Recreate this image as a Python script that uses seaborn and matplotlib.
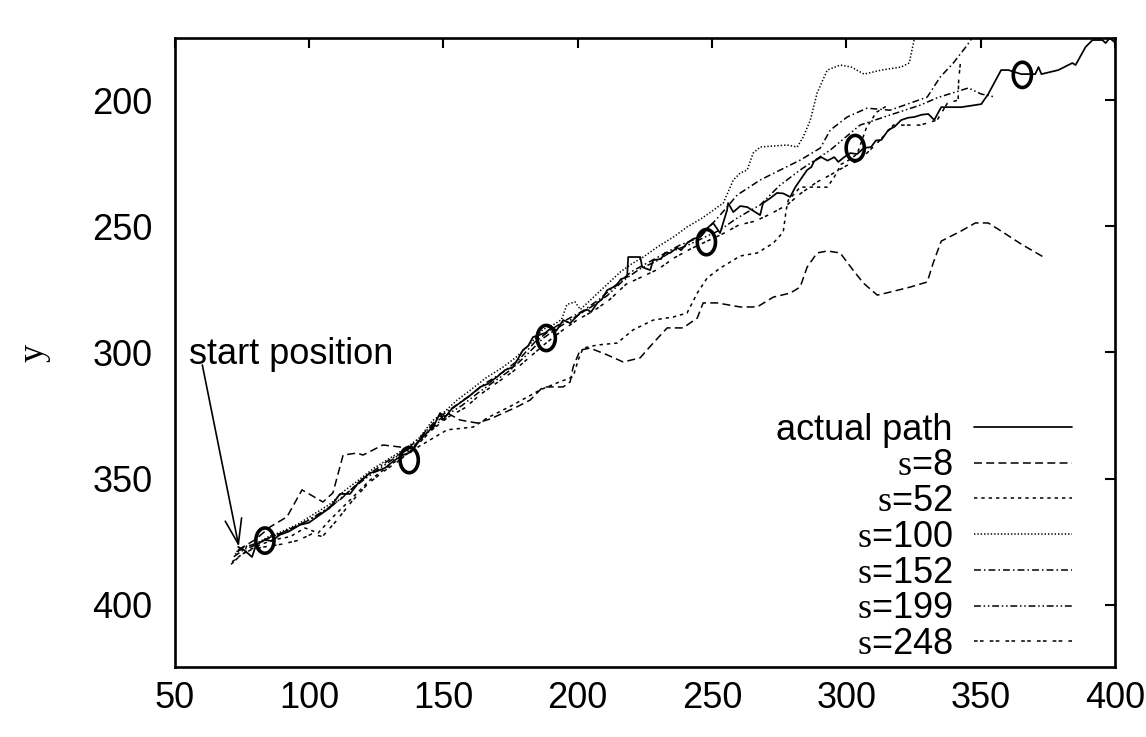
import numpy as np
import pandas as pd
import matplotlib
matplotlib.use("Agg")
import matplotlib.pyplot as plt
from matplotlib.path import Path
import seaborn as sns

# ---------------- data ----------------
actual_x = [73.6, 75.8, 78.8, 80.3, 83.6, 86.0, 89.2, 92.5, 96.6, 100.0,
            103.0, 107.8, 111.5, 115.3, 118.5, 122.7, 125.0, 128.3, 131.5, 135.0,
            138.0, 141.3, 145.0, 146.5, 148.8, 149.9, 153.0, 156.2, 159.5, 163.7,
            166.5, 170.0, 173.0, 176.0, 179.7, 181.5, 183.4, 187.9, 190.5, 192.0,
            194.6, 197.2, 200.9, 203.5, 205.0, 207.3, 209.0, 211.0, 214.5, 216.0,
            218.4, 218.8, 223.3, 224.0, 227.0, 228.1, 231.0, 232.5, 234.4, 237.0,
            238.5, 240.7, 243.0, 245.6, 248.0, 250.4, 253.0, 255.6, 256.0, 257.9,
            260.5, 263.1, 265.5, 267.9, 269.0, 271.5, 274.2, 276.5, 279.1, 281.0,
            282.8, 285.4, 287.0, 288.0, 290.6, 293.0, 295.5, 297.0, 299.2, 301.5,
            304.0, 306.5, 309.2, 311.0, 313.0, 315.6, 318.0, 320.4, 323.0, 325.3,
            328.0, 330.5, 332.7, 335.3, 342.8, 350.2, 352.8, 357.6, 360.3, 365.1,
            370.3, 371.5, 372.6, 378.9, 384.1, 385.3, 389.0, 391.6, 395.3, 396.5,
            398.0, 400.2]
actual_y = [377.1, 378.3, 381.1, 376.3, 374.3, 374.8, 372.3, 371.0, 368.4, 367.5,
            365.2, 361.6, 356.1, 356.1, 351.5, 347.8, 347.2, 345.8, 343.0, 340.7,
            339.5, 334.7, 330.7, 329.0, 324.0, 326.8, 322.5, 320.0, 317.5, 313.7,
            312.5, 309.7, 307.0, 305.8, 299.0, 297.5, 293.9, 292.3, 290.0, 291.5,
            287.2, 288.4, 284.4, 283.0, 284.0, 280.4, 279.0, 275.3, 273.5, 271.0,
            270.1, 262.2, 262.2, 266.2, 267.4, 263.4, 263.0, 260.5, 260.6, 258.5,
            259.5, 256.7, 255.0, 254.3, 251.0, 248.7, 252.7, 243.6, 240.8, 244.4,
            242.0, 242.4, 244.0, 245.6, 240.8, 239.0, 236.8, 237.0, 238.4, 234.5,
            231.7, 227.7, 226.5, 224.2, 222.6, 224.0, 222.6, 224.5, 222.6, 221.0,
            221.4, 219.0, 218.6, 216.0, 215.8, 211.9, 210.5, 207.9, 207.0, 206.7,
            205.8, 205.5, 207.9, 202.8, 202.8, 201.6, 197.6, 188.1, 188.1, 189.7,
            189.7, 186.9, 189.7, 188.1, 185.3, 186.1, 179.0, 176.2, 176.2, 177.4,
            175.4, 177.4]

s8_x = [73.6, 79.9, 85.5, 91.8, 97.4, 105.2, 108.9, 112.7, 117.9, 120.1,
        127.5, 133.9, 137.6, 143.2, 151.4, 156.2, 162.5, 167.4, 177.4, 182.3,
        187.1, 194.6, 197.2, 198.3, 200.9, 204.6, 211.0, 216.9, 223.2, 228.1,
        233.3, 239.2, 244.5, 246.7, 251.9, 260.5, 266.8, 272.8, 279.1, 282.8,
        285.4, 289.1, 292.9, 297.7, 302.5, 306.3, 311.5, 316.3, 323.8, 330.1,
        332.3, 335.3, 342.7, 348.0, 352.8, 357.6, 365.1, 374.0]
s8_y = [378.3, 374.3, 369.2, 365.2, 354.5, 359.3, 355.7, 340.7, 339.9, 340.7,
        336.7, 337.5, 339.5, 331.5, 324.0, 326.8, 328.0, 326.4, 321.6, 318.9,
        313.7, 313.7, 311.7, 305.8, 299.1, 298.3, 301.0, 303.8, 302.2, 296.3,
        290.3, 290.3, 286.4, 280.4, 280.4, 282.0, 282.0, 278.1, 276.5, 274.1,
        266.2, 260.6, 259.8, 260.6, 267.4, 272.5, 277.3, 276.1, 274.1, 272.1,
        264.6, 255.9, 251.9, 248.7, 248.7, 251.9, 257.1, 262.6]

s52_x = [71.4, 76.2, 81.8, 86.6, 92.9, 98.5, 103.4, 107.8, 115.3, 122.7,
         130.2, 138.7, 151.4, 161.1, 166.3, 176.0, 186.0, 192.3, 198.3, 200.2,
         202.0, 207.2, 214.7, 220.6, 228.1, 235.5, 240.7, 244.5, 248.2, 253.0,
         260.5, 266.8, 272.8, 276.5, 277.6, 278.4, 280.6, 282.8, 292.9, 295.5,
         298.1, 300.3, 304.0, 307.4, 311.2, 314.9]
s52_y = [383.0, 379.1, 376.3, 374.3, 373.1, 369.6, 371.6, 366.4, 358.5, 350.6,
         344.6, 338.7, 330.7, 329.6, 326.0, 320.8, 314.9, 312.1, 309.7, 303.0,
         298.3, 297.1, 296.3, 291.1, 287.2, 286.0, 284.4, 276.5, 270.5, 266.6,
         261.8, 260.6, 256.7, 252.3, 243.6, 239.6, 237.2, 234.5, 234.5, 230.5,
         225.4, 224.2, 221.4, 211.1, 204.8, 202.4]

s100_x = [72.5, 76, 80, 85, 90, 96, 102, 108, 113, 118,
          124, 130, 136, 141, 146, 150, 155, 160, 166, 172,
          177, 182, 187, 191, 194, 196, 199, 201, 204, 208,
          212, 216, 220, 224.4, 230, 236, 240.7, 246, 250, 254.2,
          257.9, 260.5, 263.1, 265.3, 267.9, 278.0, 281.7, 283.9, 286.6, 289.1,
          292.9, 297.7, 301.8, 306.6, 313.0, 320.4, 323.4, 325.2, 326.2]
s100_y = [380, 377, 376, 373, 371, 368, 364, 360, 355, 351,
          346, 342, 338, 334, 327, 324, 319, 315, 310, 306,
          302, 297, 291, 289, 287, 281, 280, 283, 280, 276,
          272, 268, 265, 262.2, 258, 254, 250.3, 247, 244, 240.8,
          231.7, 228.9, 227.7, 221.0, 218.6, 217.8, 218.6, 214.7, 207.9, 197.2,
          188.1, 186.1, 186.9, 189.7, 188.1, 186.9, 185.3, 176.2, 174.0]

s152_x = [73, 77, 82, 88, 94, 100, 106, 112, 118, 124,
          130, 136, 142, 148, 154, 160, 166, 172, 178, 184,
          190, 196, 202, 208, 214, 220, 226, 232, 238, 245.6,
          253.0, 259.4, 267.9, 275.4, 282.8, 290.3, 294.0, 300.3, 307.7, 316.3,
          324.8, 330.1, 334.9, 339.8, 345.0, 348.0]
s152_y = [379, 377, 375, 372.5, 369.5, 366.5, 362.5, 358, 352, 347,
          342.5, 339, 333, 326, 321.5, 317, 312, 308, 303, 296,
          291, 287, 283.5, 279, 273.5, 268, 264.5, 261, 257.5, 254.3,
          245.6, 237.6, 231.7, 227.7, 223.8, 219.0, 211.9, 206.7, 203.2, 204.0,
          200.8, 198.8, 190.9, 185.3, 178.2, 173.5]

s199_x = [72, 76, 80, 85, 91, 97, 103, 109, 115, 121,
          127, 133, 139, 145, 151, 157, 163, 169, 175, 181,
          187, 193, 199, 205, 211, 217, 223, 229, 235, 241,
          247, 253, 259, 263, 267.9, 275, 282.8, 294.0, 305.1, 316.3,
          327.5, 334, 340.6, 345.4, 350.2, 355.4]
s199_y = [381, 378, 376.5, 373.5, 371, 368, 364.5, 360.5, 355, 350,
          345.5, 341, 337, 331, 325, 321, 316, 311.5, 307, 301,
          294.5, 290, 286, 282, 277.5, 271.5, 267, 264, 260, 257.5,
          254.5, 251.5, 247, 244.5, 241.6, 234, 227.7, 219.8, 209.9, 205.9,
          202.0, 199, 196.8, 195.2, 197.6, 198.8]

s248_x = [71, 75, 79, 84, 90, 96, 101, 105, 110, 116,
          122, 128, 134, 140, 146, 152, 158, 164, 170, 176,
          182, 188, 194, 200, 206, 212, 218, 224, 230, 236,
          242, 248, 254, 260, 266, 272, 278, 283, 289, 294,
          300, 305, 312.6, 317.5, 327.5, 333.8, 337.6, 341.6, 341.8, 342.5]
s248_y = [384, 380, 378, 377, 376, 374.5, 372, 373, 367, 359,
          352, 347, 342.5, 337, 330.5, 325.5, 322, 316.5, 312, 307.5,
          302, 296.5, 291.5, 287, 283.5, 279, 273, 270, 267, 262.5,
          259, 256, 253, 249.5, 248, 245, 241.5, 237, 232.5, 229.7,
          226, 223.8, 215.8, 209.9, 209.9, 207.9, 201.2, 200, 192, 184.5]

circle_x = [83.6, 137.3, 188.3, 247.9, 303.3, 365.5]
circle_y = [374.6, 342.7, 294.3, 256.3, 219.0, 190.0]

series_labels = ["actual path", r"$\mathrm{s}$=8", r"$\mathrm{s}$=52", r"$\mathrm{s}$=100",
                 r"$\mathrm{s}$=152", r"$\mathrm{s}$=199", r"$\mathrm{s}$=248"]
x_ticks = [50, 100, 150, 200, 250, 300, 350, 400]
y_ticks = [200, 250, 300, 350, 400]
annotation_text = "start position"
annotation_xy = (73.9, 377.0)
annotation_tail = (60.3, 305.0)
annotation_text_pos = (55.2, 304.5)

# ---------------- styling ----------------
sns.set_style("white")
plt.rcParams["font.family"] = ["Liberation Sans", "DejaVu Sans"]
plt.rcParams["mathtext.fontset"] = "custom"
plt.rcParams["mathtext.rm"] = "Liberation Serif"
plt.rcParams["mathtext.it"] = "Liberation Serif:italic"
for key in ["text.color", "axes.labelcolor", "xtick.color", "ytick.color", "axes.edgecolor"]:
    plt.rcParams[key] = "black"

FS = 26

fig = plt.figure(figsize=(11.46, 7.37), dpi=100)
ax = fig.add_axes([0.1524, 0.0950, 0.8206, 0.8534])

series = [
    (actual_x, actual_y, "-", 1.25),
    (s8_x, s8_y, (0, (5.2, 2.8)), 1.1),
    (s52_x, s52_y, (0, (2.2, 2.6)), 1.1),
    (s100_x, s100_y, (0, (0.9, 1.3)), 1.1),
    (s152_x, s152_y, (0, (4.5, 2.0, 1.0, 2.0)), 1.1),
    (s199_x, s199_y, (0, (4.5, 1.8, 1.0, 1.8, 1.0, 1.8)), 1.1),
    (s248_x, s248_y, (0, (2.4, 1.5, 2.4, 4.0)), 1.1),
]

handles = []
for (xs, ys, ls, lw), lab in zip(series, series_labels):
    df = pd.DataFrame({"x": xs, "y": ys})
    sns.lineplot(data=df, x="x", y="y", sort=False, estimator=None,
                 color="black", linewidth=lw, linestyle=ls, label=lab, ax=ax)
    handles.append(ax.get_lines()[-1])

# "O" markers on the actual path
t = np.linspace(0, 2 * np.pi, 80)
oval = Path(np.column_stack([0.72 * np.cos(t), np.sin(t)]), closed=True)
sns.scatterplot(x=circle_x, y=circle_y, marker=oval, s=330, facecolors="none",
                edgecolor="black", linewidths=2.6, ax=ax, zorder=5, legend=False)

# start position annotation
ax.annotate("", xy=annotation_xy, xytext=annotation_tail,
            arrowprops=dict(arrowstyle="->,head_length=0.9,head_width=0.3",
                            mutation_scale=20, lw=1.2, color="black",
                            shrinkA=0, shrinkB=0))
ax.text(annotation_text_pos[0], annotation_text_pos[1], annotation_text,
        ha="left", va="baseline", fontsize=FS, color="black")

ax.set_xlim(50, 400)
ax.set_ylim(424.7, 175.4)
ax.set_xticks(x_ticks)
ax.set_yticks(y_ticks)
ax.set_xlabel("")
ax.set_ylabel("y", fontfamily="Liberation Serif", fontsize=FS, labelpad=30, color="black")

for sp in ax.spines.values():
    sp.set_linewidth(1.9)
    sp.set_color("black")
    sp.set_visible(True)

ax.tick_params(axis="both", direction="in", length=7, width=1.5,
               top=True, right=True, labelsize=FS, colors="black")
ax.tick_params(axis="x", pad=10)
ax.tick_params(axis="y", pad=16)

leg = ax.legend(handles, series_labels, loc="lower right",
                bbox_to_anchor=(0.954, 0.008), frameon=False, markerfirst=False,
                fontsize=FS, handlelength=2.7, handletextpad=0.6,
                labelspacing=0.02, borderpad=0, borderaxespad=0)
for txt in leg.get_texts():
    txt.set_color("black")

fig.savefig("out.png", dpi=100)
